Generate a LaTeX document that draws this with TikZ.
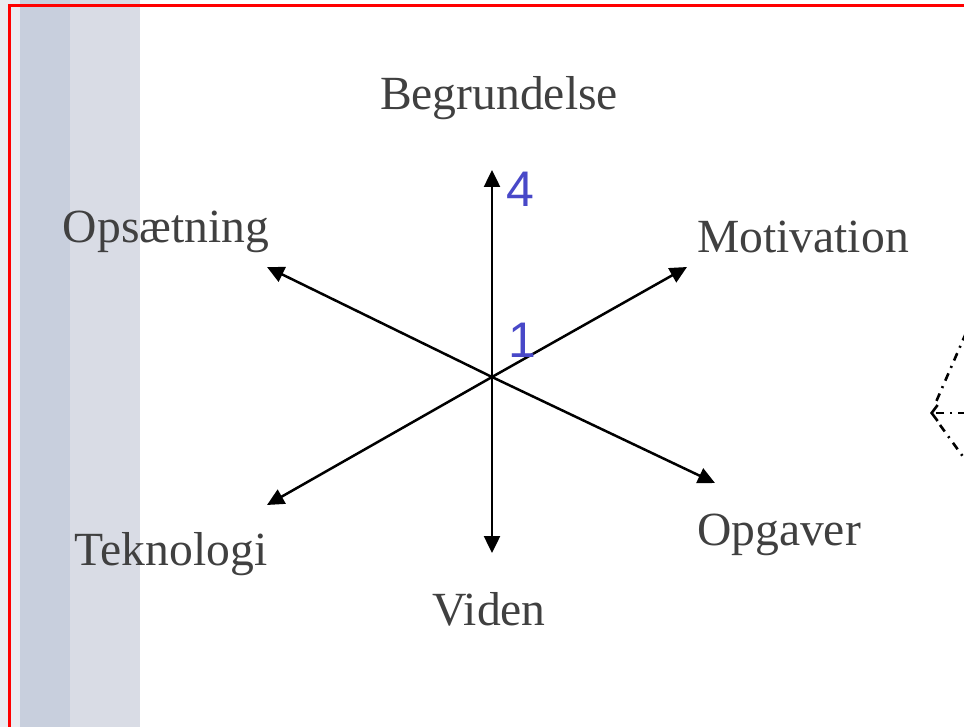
\documentclass[tikz,border=0pt]{standalone}
\usepackage{fontspec}
\usepackage{xcolor}
\setmainfont{Liberation Serif}
\newfontfamily\numfont{Liberation Sans}
\usetikzlibrary{arrows.meta}

\definecolor{labelgray}{RGB}{64,64,64}
\definecolor{numblue}{RGB}{72,72,200}
\definecolor{bandlight}{RGB}{234,236,241}
\definecolor{banddark}{RGB}{200,207,221}
\definecolor{bandmid}{RGB}{217,220,229}

\tikzset{
  axislabel/.style={anchor=base, text=labelgray, font=\fontsize{47.6}{56}\selectfont, inner sep=0pt},
  scalenum/.style={anchor=base, text=numblue, font=\numfont\fontsize{50}{58}\selectfont, inner sep=0pt},
  axis/.style={line width=2.5pt, -{Triangle[length=17pt,width=16pt]}},
  dashdot/.style={line width=2.6pt, dash pattern=on 8pt off 6pt on 2pt off 6pt}
}

\begin{document}
\begin{tikzpicture}[x=1pt,y=-1pt]
\useasboundingbox (0,0) rectangle (964,727);
\clip (0,0) rectangle (964,727);

% slide background
\fill[white] (0,0) rectangle (964,727);
\fill[bandlight] (0,0) rectangle (20,727);
\fill[banddark] (20,0) rectangle (70,727);
\fill[bandmid] (70,0) rectangle (140,727);
\draw[red, line width=3pt] (9.5,5.5) rectangle (990,760);

% centre and arrow ends
\coordinate (O) at (492,377);
\coordinate (up) at (492,170);
\coordinate (down) at (492,553);
\coordinate (ul) at (267,267);
\coordinate (ur) at (687,267);
\coordinate (ll) at (267,505);
\coordinate (lr) at (715,483);

\draw[axis] (O) -- (up);
\draw[axis] (O) -- (down);
\draw[axis] (O) -- (ul);
\draw[axis] (O) -- (ur);
\draw[axis] (O) -- (ll);
\draw[axis] (O) -- (lr);

% labels
\node[axislabel] (begr) at (499,110) {Begrundelse};
\node[axislabel] (ops) at (166,243) {Opsætning};
\node[axislabel] (motiv) at (803,253) {Motivation};
\node[axislabel] (tek) at (171,565) {Teknologi};
\node[axislabel] (opg) at (779,545) {Opgaver};
\node[axislabel] (viden) at (489,625) {Viden};

\node[scalenum] (four) at (520,207) {4};
\node[scalenum] (one) at (522,357) {1};

% cut-off shape at the right edge
\coordinate (tip) at (930,413);
\draw[dashdot] (966,333) -- (936,402);
\draw[dashdot] (940,425) -- (964,458);
\draw[dashdot, -{Straight Barb[length=6pt,width=16pt]}] (966,413) -- (tip);
\end{tikzpicture}
\end{document}
